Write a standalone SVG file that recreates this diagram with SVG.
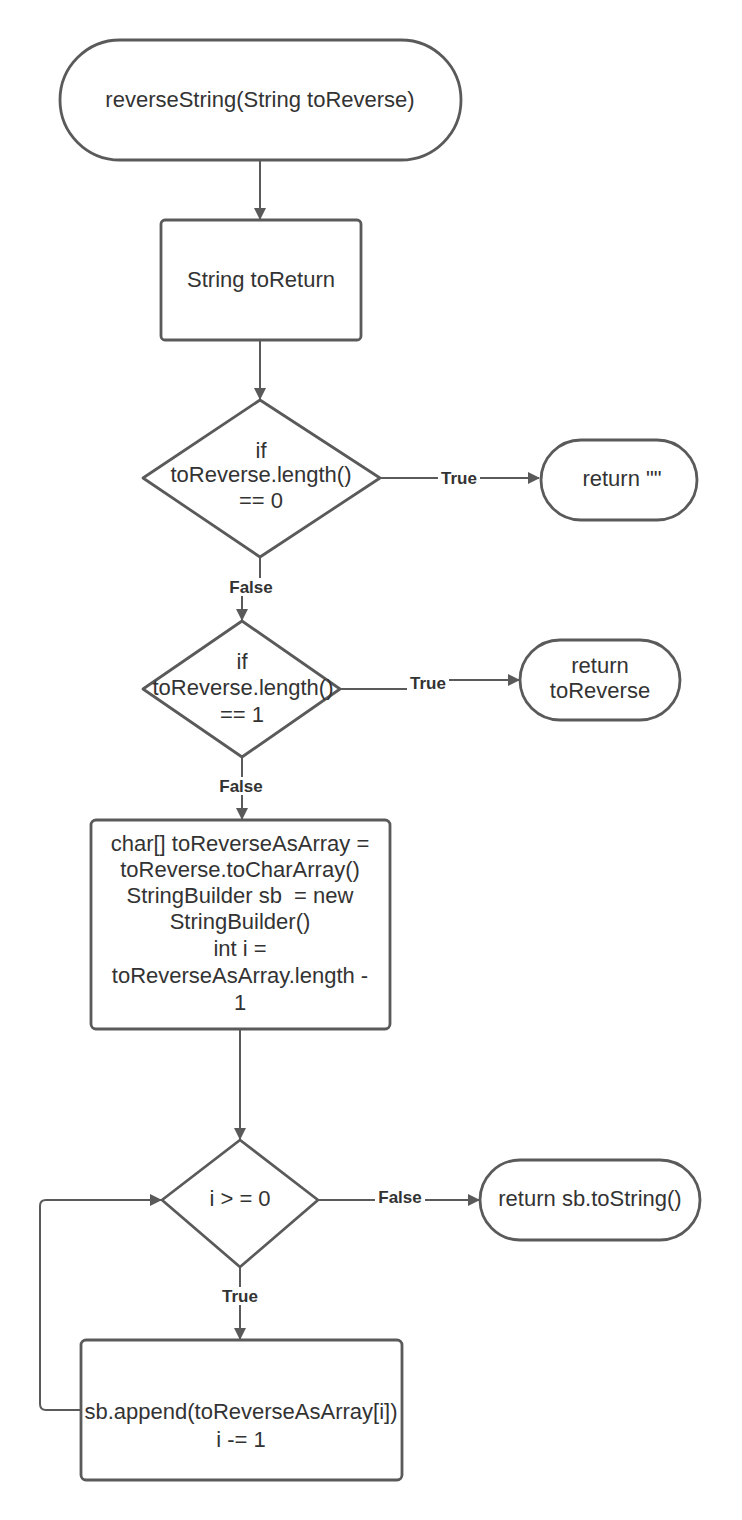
<svg xmlns="http://www.w3.org/2000/svg" width="742" height="1520" viewBox="0 0 742 1520">
  <defs>
    <marker id="arrow" viewBox="0 0 12 12" refX="11" refY="6" markerWidth="12" markerHeight="12" markerUnits="userSpaceOnUse" orient="auto">
      <path d="M0,0 L12,6 L0,12 Z" fill="#5a5a5a"/>
    </marker>
    <style>
      .shape { fill: #ffffff; stroke: #5a5a5a; stroke-width: 2.8; stroke-linejoin: round; }
      .edge { fill: none; stroke: #5a5a5a; stroke-width: 2; stroke-linejoin: round; }
      .txt { font-family: "Liberation Sans", Arial, sans-serif; font-size: 22px; fill: #333333; text-anchor: middle; dominant-baseline: central; }
      .lbl { font-family: "Liberation Sans", Arial, sans-serif; font-size: 17px; font-weight: bold; fill: #333333; text-anchor: middle; dominant-baseline: central; }
      .lblbg { fill: #ffffff; }
    </style>
  </defs>

  <rect width="742" height="1520" fill="#ffffff"/>

  <!-- connectors -->
  <g id="connectors">
    <path class="edge" d="M260,160 L260,219" marker-end="url(#arrow)"/>
    <path class="edge" d="M260,340 L260,399" marker-end="url(#arrow)"/>
    <path class="edge" d="M380,478 L539,478" marker-end="url(#arrow)"/>
    <path class="edge" d="M260,557 L260,587 L242,587 L242,620" marker-end="url(#arrow)"/>
    <path class="edge" d="M340,689 L428,689 L428,680 L519,680" marker-end="url(#arrow)"/>
    <path class="edge" d="M242,757 L242,819" marker-end="url(#arrow)"/>
    <path class="edge" d="M240,1029 L240,1139" marker-end="url(#arrow)"/>
    <path class="edge" d="M318,1200 L479,1200" marker-end="url(#arrow)"/>
    <path class="edge" d="M240,1267 L240,1339" marker-end="url(#arrow)"/>
    <path class="edge" d="M81,1410 L46,1410 Q40,1410 40,1404 L40,1206 Q40,1200 46,1200 L161,1200" marker-end="url(#arrow)"/>

    <!-- branch labels -->
    <rect class="lblbg" x="438" y="469" width="42" height="18"/>
    <text class="lbl" x="459" y="478">True</text>
    <rect class="lblbg" x="226" y="578" width="50" height="18"/>
    <text class="lbl" x="251" y="587">False</text>
    <rect class="lblbg" x="407" y="674" width="42" height="18"/>
    <text class="lbl" x="428" y="683">True</text>
    <rect class="lblbg" x="216" y="777" width="50" height="18"/>
    <text class="lbl" x="241" y="786">False</text>
    <rect class="lblbg" x="375" y="1191" width="50" height="18"/>
    <text class="lbl" x="400" y="1197">False</text>
    <rect class="lblbg" x="219" y="1287" width="42" height="18"/>
    <text class="lbl" x="240" y="1296">True</text>
  </g>

  <!-- nodes -->
  <g id="start">
    <rect class="shape" x="60" y="40" width="401" height="120" rx="60" ry="60"/>
    <text class="txt" x="260" y="99">reverseString(String toReverse)</text>
  </g>

  <g id="declare">
    <rect class="shape" x="161" y="220" width="200" height="120" rx="4"/>
    <text class="txt" x="261" y="279">String toReturn</text>
  </g>

  <g id="check-empty">
    <path class="shape" d="M260,400 L380,478 L260,557 L143,478 Z"/>
    <text class="txt" x="261" y="450">if</text>
    <text class="txt" x="261" y="474">toReverse.length()</text>
    <text class="txt" x="261" y="500">== 0</text>
  </g>

  <g id="return-empty">
    <rect class="shape" x="541" y="440" width="156" height="80" rx="40" ry="40"/>
    <text class="txt" x="622" y="478">return ""</text>
  </g>

  <g id="check-single">
    <path class="shape" d="M242,621 L340,689 L242,757 L143,689 Z"/>
    <text class="txt" x="242" y="661">if</text>
    <text class="txt" x="243" y="687">toReverse.length()</text>
    <text class="txt" x="242" y="714">== 1</text>
  </g>

  <g id="return-input">
    <rect class="shape" x="520" y="640" width="160" height="80" rx="40" ry="40"/>
    <text class="txt" x="600" y="665">return</text>
    <text class="txt" x="600" y="690">toReverse</text>
  </g>

  <g id="setup">
    <rect class="shape" x="91" y="820" width="299" height="209" rx="5"/>
    <text class="txt" x="240" y="843">char[] toReverseAsArray =</text>
    <text class="txt" x="240" y="869">toReverse.toCharArray()</text>
    <text class="txt" x="240" y="895" xml:space="preserve">StringBuilder sb  = new</text>
    <text class="txt" x="240" y="921">StringBuilder()</text>
    <text class="txt" x="240" y="948">int i =</text>
    <text class="txt" x="240" y="975">toReverseAsArray.length -</text>
    <text class="txt" x="240" y="1002">1</text>
  </g>

  <g id="loop-check">
    <path class="shape" d="M240,1140 L318,1200 L240,1267 L162,1200 Z"/>
    <text class="txt" x="240" y="1198">i &gt; = 0</text>
  </g>

  <g id="return-result">
    <rect class="shape" x="480" y="1160" width="220" height="80" rx="40" ry="40"/>
    <text class="txt" x="590" y="1198">return sb.toString()</text>
  </g>

  <g id="loop-body">
    <rect class="shape" x="81" y="1340" width="321" height="140" rx="5"/>
    <text class="txt" x="241" y="1411">sb.append(toReverseAsArray[i])</text>
    <text class="txt" x="241" y="1439">i -= 1</text>
  </g>
</svg>
